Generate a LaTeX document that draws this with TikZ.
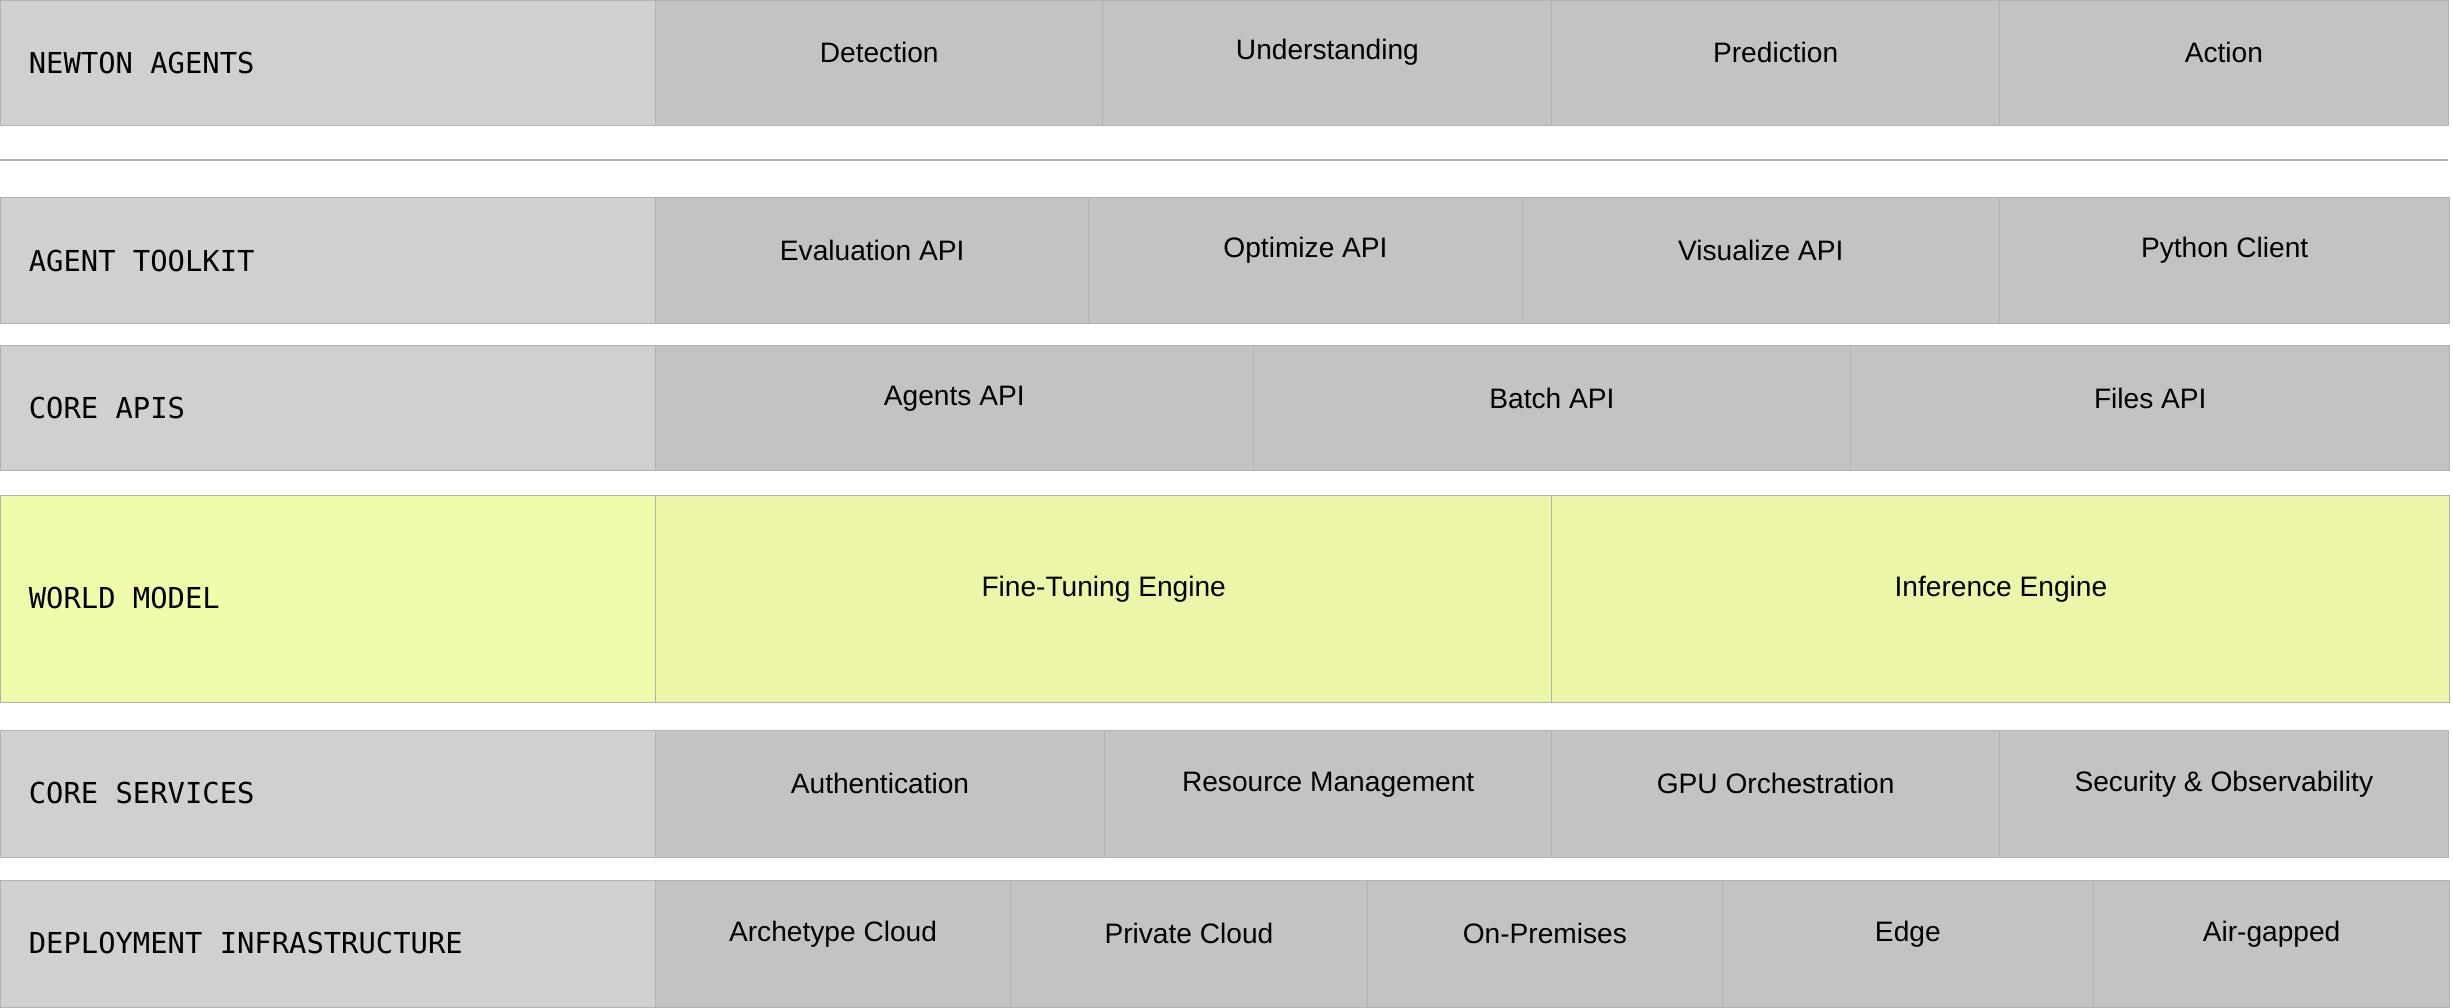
\documentclass[tikz,border=0pt]{standalone}
\usepackage{fontspec}
\setmainfont{Liberation Sans}
\newfontfamily\monofont{DejaVu Sans Mono}
\usetikzlibrary{fit}
\definecolor{labelgrey}{HTML}{D0D0D0}
\definecolor{cellgrey}{HTML}{C3C3C3}
\definecolor{edgegrey}{HTML}{B2B2B2}
\definecolor{labelyellow}{HTML}{F0FCAA}
\definecolor{cellyellow}{HTML}{EDF5A8}
\tikzset{
  layer/.style={fill=labelgrey, draw=edgegrey, line width=0.3pt, inner sep=0pt},
  tag/.style={font=\monofont\fontsize{8.2}{10}\selectfont, anchor=west, inner sep=0pt},
  cell/.style={fill=cellgrey, draw=edgegrey, line width=0.3pt, inner sep=0pt,
    font=\fontsize{8}{10}\selectfont},
  wm/.style={fill=labelyellow},
  wmcell/.style={fill=cellyellow},
}
\begin{document}
\begin{tikzpicture}[x=0.015645cm,y=-0.015645cm]
\useasboundingbox (0,0) rectangle (1568,644);
% layer labels
\node[layer, fit={(0,0) (419,80)}] (agentsL) {};
\node[tag] at (18,40) (agentsT) {NEWTON AGENTS};
\node[layer, fit={(0,126) (419,207)}] (toolkitL) {};
\node[tag] at (18,167) (toolkitT) {AGENT TOOLKIT};
\node[layer, fit={(0,221) (419,301)}] (apisL) {};
\node[tag] at (18,261) (apisT) {CORE APIS};
\node[layer, wm, fit={(0,317) (419,449)}] (worldL) {};
\node[tag] at (18,382) (worldT) {WORLD MODEL};
\node[layer, fit={(0,467) (419,548)}] (servL) {};
\node[tag] at (18,507) (servT) {CORE SERVICES};
\node[layer, fit={(0,563) (419,644)}] (deplL) {};
\node[tag] at (18,603) (deplT) {DEPLOYMENT INFRASTRUCTURE};
% separator
\coordinate (sepA) at (0,102);
\coordinate (sepB) at (1565,102);
\draw[edgegrey, line width=0.6pt] (sepA) -- (sepB);
% cells
\foreach \a/\b/\t [count=\i] in {419/705/Detection, 705/992/Understanding,
    992/1278/Prediction, 1278/1565/Action}
  \node[cell, fit={(\a,0) (\b,80)}] (agent\i) {\t};
\foreach \a/\b/\t [count=\i] in {419/696/Evaluation API, 696/973/Optimize API,
    973/1278/Visualize API, 1278/1566/Python Client}
  \node[cell, fit={(\a,126) (\b,207)}] (tool\i) {\t};
\foreach \a/\b/\t [count=\i] in {419/801/Agents API, 801/1183/Batch API,
    1183/1566/Files API}
  \node[cell, fit={(\a,221) (\b,301)}] (api\i) {\t};
\foreach \a/\b/\t [count=\i] in {419/992/Fine-Tuning Engine, 992/1566/Inference Engine}
  \node[cell, wmcell, fit={(\a,317) (\b,449)}] (world\i) {\t};
\foreach \a/\b/\t [count=\i] in {419/706/Authentication, 706/992/Resource Management,
    992/1278/GPU Orchestration, 1278/1565/Security \& Observability}
  \node[cell, fit={(\a,467) (\b,548)}] (serv\i) {\t};
\foreach \a/\b/\t [count=\i] in {419/646/Archetype Cloud, 646/874/Private Cloud,
    874/1101/On-Premises, 1101/1338/Edge, 1338/1566/Air-gapped}
  \node[cell, fit={(\a,563) (\b,644)}] (depl\i) {\t};
\end{tikzpicture}
\end{document}
